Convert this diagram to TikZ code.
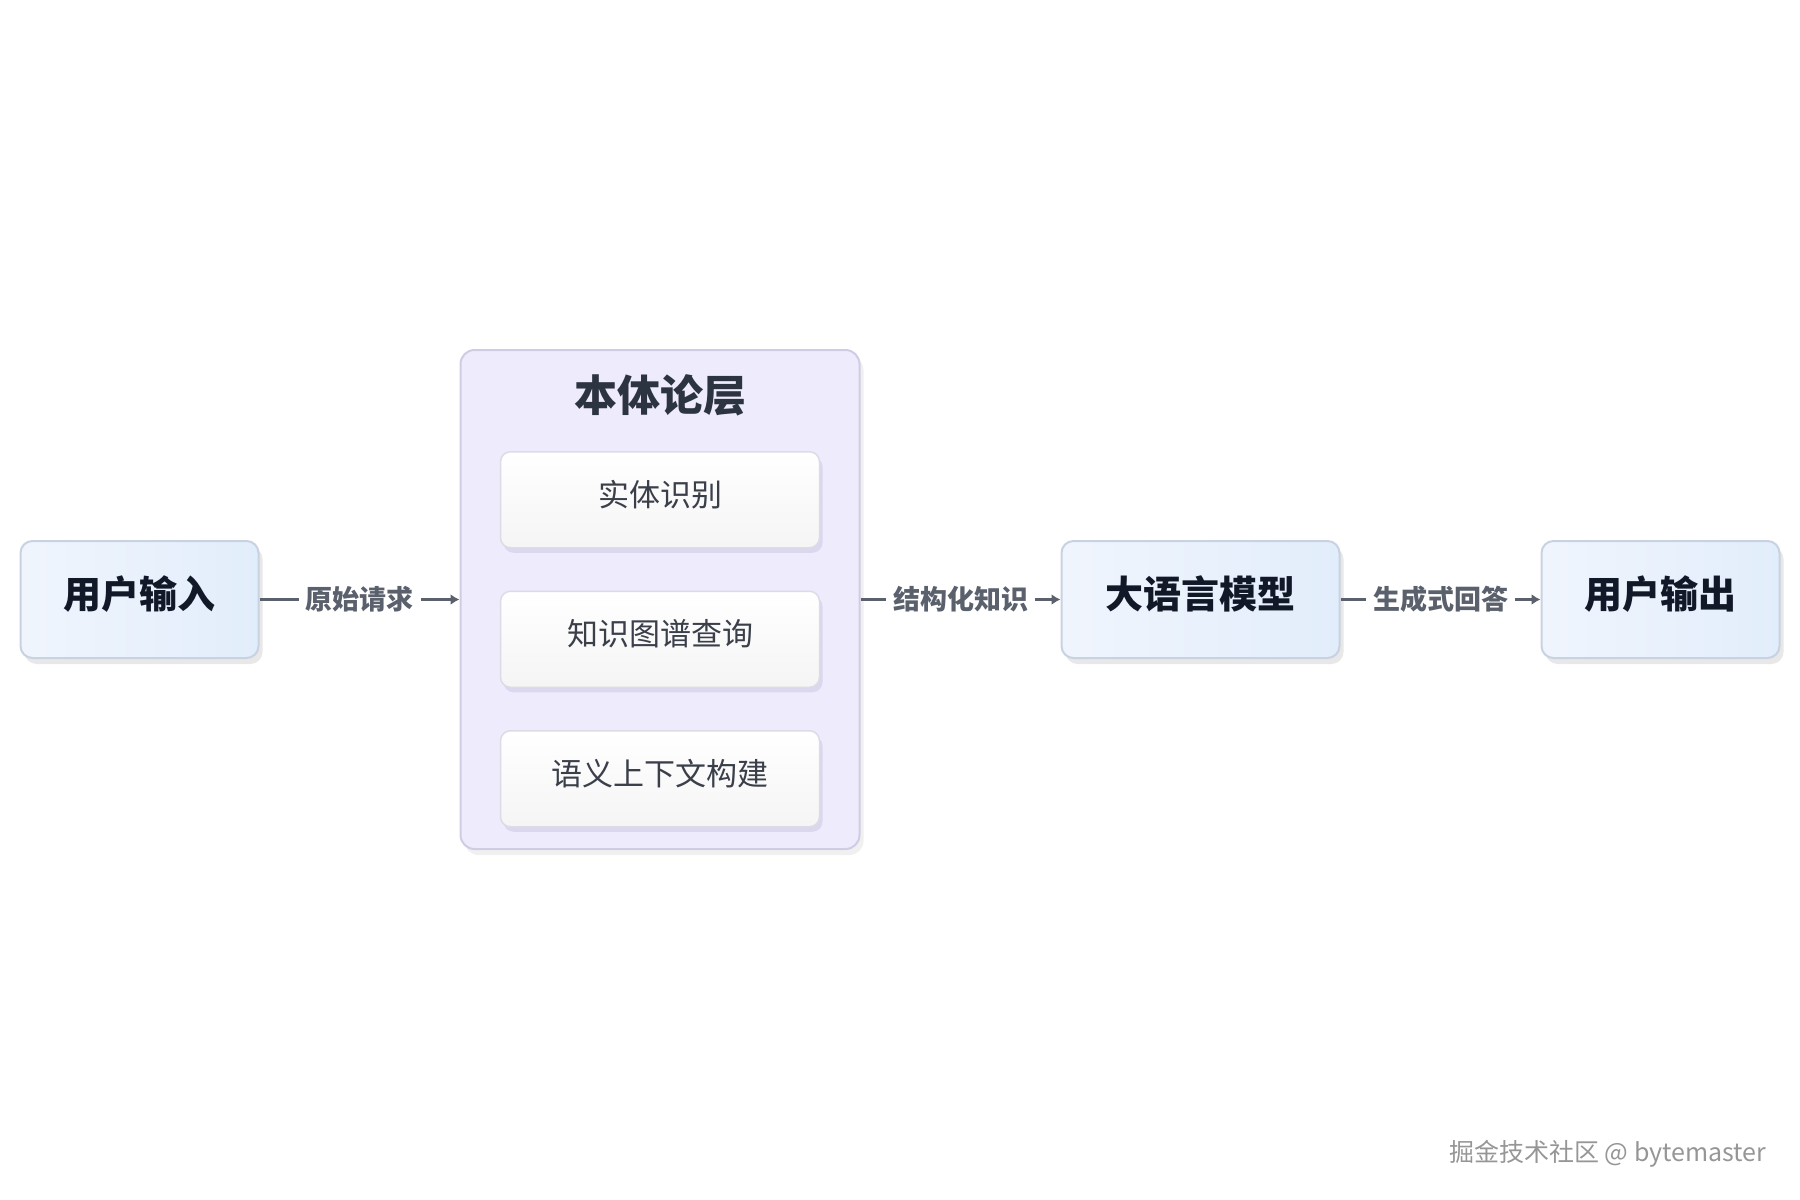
\documentclass[tikz,border=0pt]{standalone}
\usepackage{fontspec}
\setmainfont{Noto Sans CJK SC}
\usetikzlibrary{arrows.meta, positioning, calc, shadows}
\usepackage{xcolor}
\definecolor{boxblueA}{RGB}{240,245,253}
\definecolor{boxblueB}{RGB}{226,237,251}
\definecolor{boxedge}{RGB}{200,210,224}
\definecolor{layerfill}{RGB}{238,235,252}
\definecolor{layeredge}{RGB}{208,204,228}
\definecolor{subedge}{RGB}{220,220,230}
\definecolor{subshadow}{RGB}{184,180,216}
\definecolor{inkdark}{RGB}{17,24,39}
\definecolor{inktitle}{RGB}{45,52,65}
\definecolor{inksub}{RGB}{58,63,74}
\definecolor{flowgray}{RGB}{90,96,108}
\definecolor{markgray}{RGB}{150,150,150}

\begin{document}
\begin{tikzpicture}[
        x=1pt, y=-1pt,
        node distance=200pt,
        mainbox/.style={rectangle, draw=boxedge, line width=2pt, left color=boxblueA, right color=boxblueB,
            minimum width=#1, minimum height=117pt, rounded corners=12pt, text=inkdark,
            text height=30pt, text depth=13pt,
            font=\fontsize{38}{44}\selectfont\bfseries,
            drop shadow={shadow xshift=4pt, shadow yshift=-6pt, opacity=0.18, fill=gray}},
        layerbox/.style={rectangle, draw=layeredge, line width=2pt, fill=layerfill,
            minimum width=399pt, minimum height=499pt, rounded corners=14pt,
            drop shadow={shadow xshift=4pt, shadow yshift=-6pt, opacity=0.12, fill=gray}},
        subbox/.style={rectangle, draw=subedge, line width=1.5pt, top color=white, bottom color=gray!8,
            minimum width=319pt, minimum height=96pt, rounded corners=10pt, text=inksub,
            text height=24pt, text depth=11pt,
            font=\fontsize{31}{36}\selectfont,
            drop shadow={shadow xshift=3pt, shadow yshift=-5pt, opacity=0.35, fill=subshadow}},
        flowarrow/.style={-{Latex[length=9pt, width=11pt]}, line width=3pt, flowgray},
        flowlabel/.style={fill=white, inner sep=7pt, text=flowgray, font=\fontsize{27}{32}\selectfont\bfseries}
    ]
        \useasboundingbox (0,0) rectangle (1800,1200);

        % Main flow
        \node[mainbox=238pt] (in) at (139.5,599.5) {用户输入};
        \node[layerbox, right=of in] (ont) {};
        \node[mainbox=278pt, right=of ont] (llm) {大语言模型};
        \node[mainbox=238pt, right=of llm] (out) {用户输出};

        % Ontology layer
        \node[text=inktitle, font=\fontsize{43}{48}\selectfont\bfseries] (ttl) at ($(ont.north)+(0,46)$) {本体论层};
        \node[subbox, below=102pt of ont.north] (ent) {实体识别};
        \node[subbox, below=42pt of ent] (kg) {知识图谱查询};
        \node[subbox, below=42pt of kg] (sem) {语义上下文构建};

        % Arrows
        \draw[flowarrow] (in) -- node[flowlabel] {原始请求} (ont);
        \draw[flowarrow] (ont) -- node[flowlabel] {结构化知识} (llm);
        \draw[flowarrow] (llm) -- node[flowlabel] {生成式回答} (out);

        % Watermark
        \node[anchor=east, text=markgray, font=\fontsize{25}{30}\selectfont] (mark) at (1770,1154) {掘金技术社区 @ bytemaster};
    \end{tikzpicture}
\end{document}
